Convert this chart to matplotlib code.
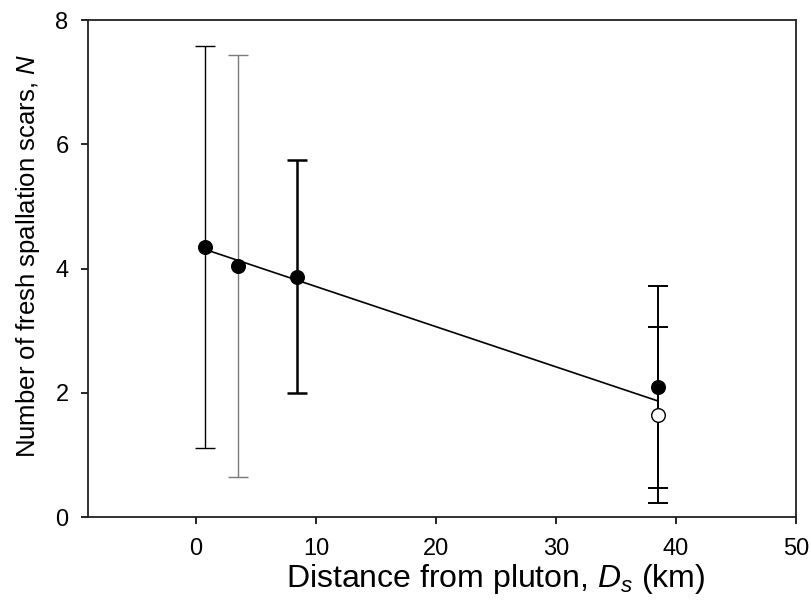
import numpy as np
import matplotlib
matplotlib.use("Agg")
import matplotlib.pyplot as plt

plt.rcParams['font.family'] = ['Liberation Sans', 'DejaVu Sans']
plt.rcParams['mathtext.fontset'] = 'custom'
plt.rcParams['mathtext.rm'] = 'Liberation Sans'
plt.rcParams['mathtext.it'] = 'Liberation Sans:italic'

# Data
distance = [0.75, 3.47, 8.39, 38.47]
scars = [4.35, 4.04, 3.87, 2.09]
scars_err = [3.24, 3.39, 1.87, 1.63]
bar_colors = ['black', '#7a7a7a', 'black', 'black']
bar_widths = [1.0, 1.0, 1.8, 1.4]

open_distance = [38.47]
open_scars = [1.645]
open_err = [1.42]

fig = plt.figure(figsize=(8.11, 6.12), dpi=100)
ax = fig.add_axes([0.1085, 0.1552, 0.873, 0.812])

# regression through all points
all_x = np.array(distance + open_distance)
all_y = np.array(scars + open_scars)
slope, intercept = np.polyfit(all_x, all_y, 1)
xl = np.array([all_x.min(), all_x.max()])
ax.plot(xl, slope * xl + intercept, color='black', lw=1.2, zorder=2)

for x, y, e, c, w in zip(distance, scars, scars_err, bar_colors, bar_widths):
    ax.errorbar([x], [y], yerr=[e], fmt='none', ecolor=c, elinewidth=w,
                capsize=7.5, capthick=w, zorder=1)
for x, y, e in zip(open_distance, open_scars, open_err):
    ax.errorbar([x], [y], yerr=[e], fmt='none', ecolor='black', elinewidth=1.4,
                capsize=7.5, capthick=1.4, zorder=1)

ax.plot(distance, scars, 'o', color='black', markersize=9.8, zorder=3)
ax.plot(open_distance, open_scars, 'o', markerfacecolor='white',
        markeredgecolor='black', markeredgewidth=1.0, markersize=9.8, zorder=3)

ax.set_xlim(-9, 50)
ax.set_ylim(0, 8)
ax.set_xticks([0, 10, 20, 30, 40, 50])
ax.set_yticks([0, 2, 4, 6, 8])
ax.tick_params(direction='out', length=5, width=1.2, labelsize=17, colors='black')
ax.tick_params(axis='x', pad=10)
ax.tick_params(axis='y', pad=9)
for s in ax.spines.values():
    s.set_linewidth(1.3)
    s.set_color('#222222')

ax.set_xlabel(r'Distance from pluton, $\mathit{D}_{s}$ (km)', fontsize=23)
ax.xaxis.set_label_coords(0.576, -0.125)
ax.xaxis.label.set_va('center')
ax.set_ylabel(r'Number of fresh spallation scars, $\mathit{N}$', fontsize=18.5)
ax.yaxis.set_label_coords(-0.085, 0.525)
ax.yaxis.label.set_va('center')

fig.savefig('out.png', dpi=100)
